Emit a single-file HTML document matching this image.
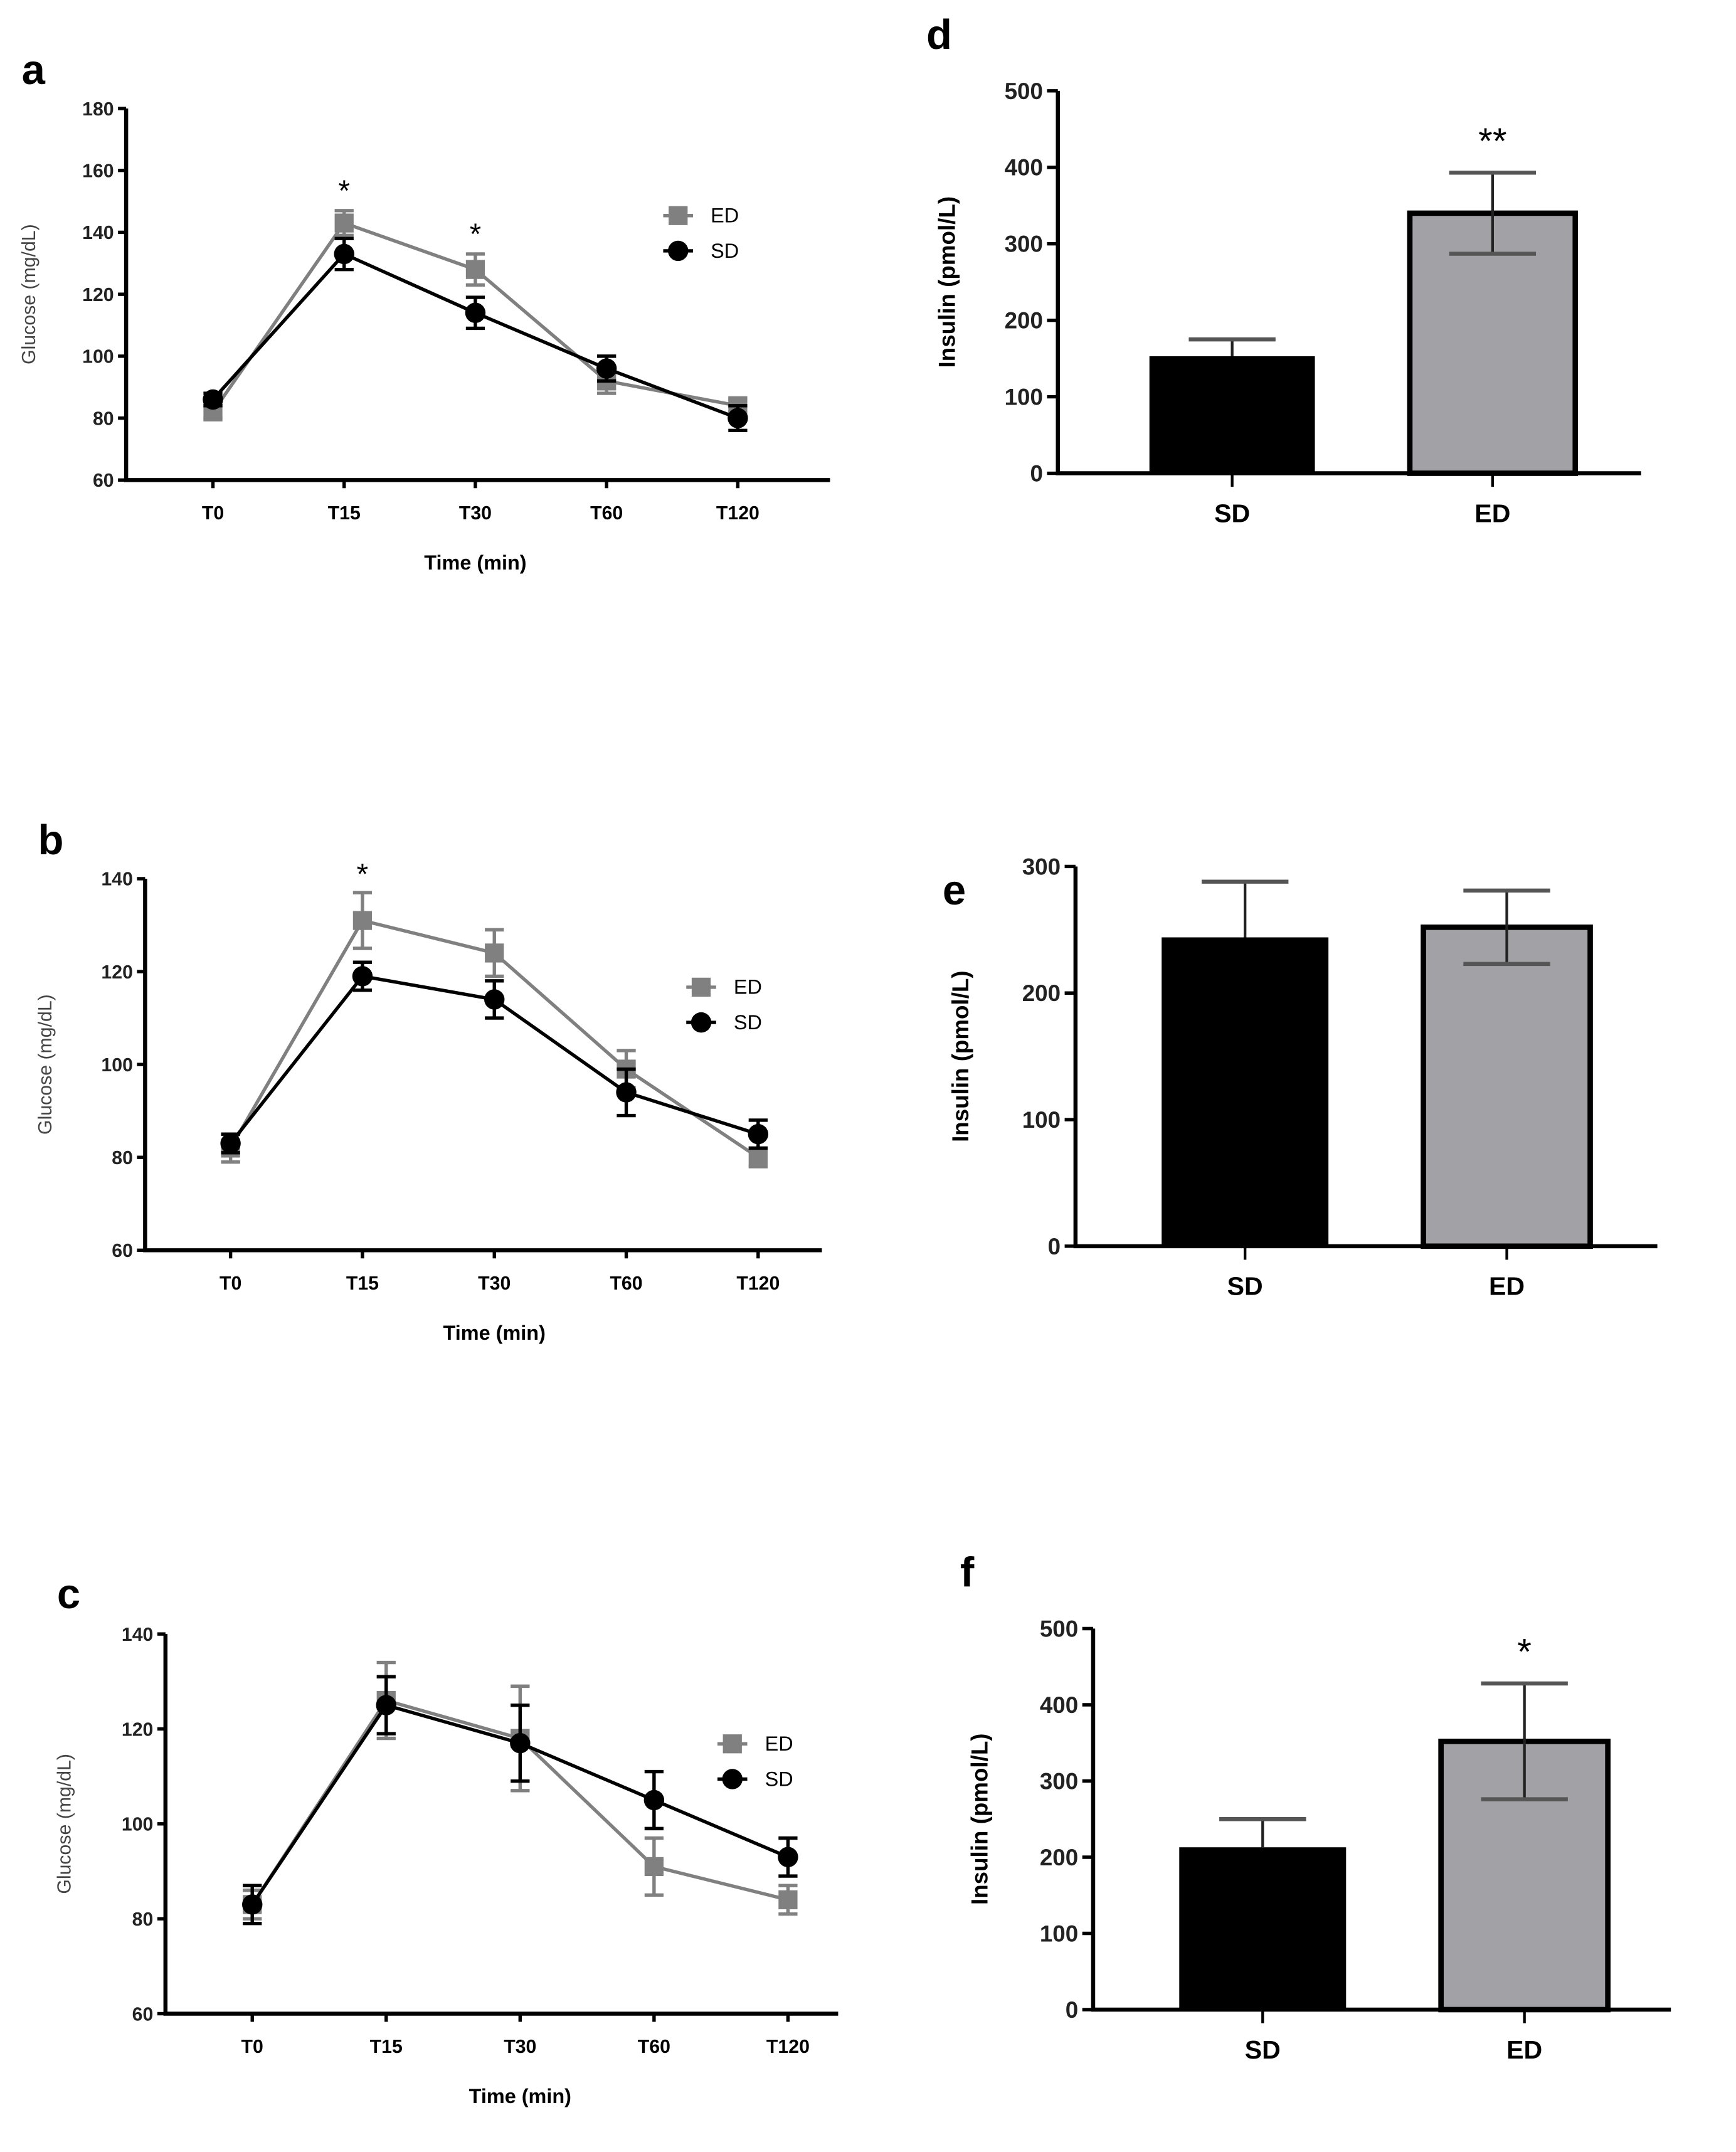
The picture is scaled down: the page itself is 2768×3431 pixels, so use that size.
<!DOCTYPE html>
<html><head><meta charset="utf-8"><style>
html,body{margin:0;padding:0;background:#fff;}
svg{display:block;font-family:"Liberation Sans",sans-serif;}
</style></head><body>
<svg id="fig" width="2768" height="3431" viewBox="0 0 1280 1587" preserveAspectRatio="none" xmlns="http://www.w3.org/2000/svg"></svg>
<script>
// ---- Line chart data ----
const timeLabels = ["T0","T15","T30","T60","T120"];
const aED = [82,143,128,92,84];
const aEDerr = [2,4,5,4,2];
const aSD = [86,133,114,96,80];
const aSDerr = [2,5,5,4,4];
const bED = [82,131,124,99,80];
const bEDerr = [3,6,5,4,2];
const bSD = [83,119,114,94,85];
const bSDerr = [2,3,4,5,3];
const cED = [83,126,118,91,84];
const cEDerr = [3,8,11,6,3];
const cSD = [83,125,117,105,93];
const cSDerr = [4,6,8,6,4];
const aTicks = [60,80,100,120,140,160,180];
const bTicks = [60,80,100,120,140];
const cTicks = [60,80,100,120,140];
// ---- Bar chart data ----
const barCats = ["SD","ED"];
const dVals = [153,340];
const dErr = [22,53];
const eVals = [244,252];
const eErr = [44,29];
const fVals = [213,352];
const fErr = [37,76];
const dTicks = [0,100,200,300,400,500];
const eTicks = [0,100,200,300];
const fTicks = [0,100,200,300,400,500];

const NS="http://www.w3.org/2000/svg";
const svg=document.getElementById('fig');
function mk(tag,attrs,parent,text){const e=document.createElementNS(NS,tag);for(const k in attrs)e.setAttribute(k,attrs[k]);if(text!==undefined)e.textContent=text;(parent||svg).appendChild(e);return e;}

function lineChart(o){
  const g=mk('g',{});
  
  
  const y=v=>o.y1+(v-o.vmax)/(o.vmin-o.vmax)*(o.y0-o.y1);
  const x=i=>o.xs0+i*o.step;
  const pl=mk('text',{x:o.lx,y:o.ly,'font-size':31,'font-weight':'bold'},g,o.id);
  
  
  const ax=mk('path',{d:`M${o.ax} ${o.y1}V${o.y0}H${o.xend}`,stroke:'#000','stroke-width':3,fill:'none'},g);
  
  
  o.ticks.forEach(t=>{
    mk('line',{x1:o.ax-6,x2:o.ax,y1:y(t),y2:y(t),stroke:'#000','stroke-width':2.5},g);
    const tl=mk('text',{x:o.ax-9,y:y(t)+5,'font-size':14,'text-anchor':'end','font-weight':'bold',fill:'#222'},g,t);
    
    
  });
  timeLabels.forEach((l,i)=>{
    mk('line',{x1:x(i),x2:x(i),y1:o.y0,y2:o.y0+6,stroke:'#000','stroke-width':2.5},g);
    const tl=mk('text',{x:x(i),y:o.y0+29,'font-size':14,'text-anchor':'middle','font-weight':'bold'},g,l);
    
    
  });
  const xt=mk('text',{x:x(2),y:o.y0+66,'font-size':15,'text-anchor':'middle','font-weight':'bold'},g,'Time (min)');
  
  
  const yc=(o.y0+o.y1)/2;
  const yt=mk('text',{x:o.ylx,y:yc,'font-size':14,'text-anchor':'middle',fill:'#444',transform:`rotate(-90 ${o.ylx} ${yc})`},g,'Glucose (mg/dL)');
  
  
  const series=[[o.ed,o.ede,'#808080','sq','ED'],[o.sd,o.sde,'#000','ci','SD']];
  series.forEach(([v,e,c,m,n])=>{
    const sg=mk('g',{},g);
    
    
    mk('polyline',{points:v.map((d,i)=>x(i)+','+y(d)).join(' '),fill:'none',stroke:c,'stroke-width':2.5},sg);
    v.forEach((d,i)=>{
      const cx=x(i),cy=y(d),t=y(d+e[i]),b=y(d-e[i]);
      mk('path',{d:`M${cx} ${t}V${b}M${cx-7} ${t}H${cx+7}M${cx-7} ${b}H${cx+7}`,stroke:c,'stroke-width':2.5,fill:'none'},sg);
      const mkr = m==='sq'?mk('rect',{x:cx-7,y:cy-7,width:14,height:14,fill:c},sg):mk('circle',{cx:cx,cy:cy,r:7.5,fill:c},sg);
      
      
    });
  });
  [[0,'#808080','sq','ED'],[1,'#000','ci','SD']].forEach(([k,c,m,n])=>{
    const lg=mk('g',{},g);
    
    
    const yy=o.legy+k*26;
    mk('line',{x1:o.legx-11,x2:o.legx+11,y1:yy,y2:yy,stroke:c,'stroke-width':2.5},lg);
    if(m==='sq')mk('rect',{x:o.legx-7,y:yy-7,width:14,height:14,fill:c},lg);else mk('circle',{cx:o.legx,cy:yy,r:7.5,fill:c},lg);
    mk('text',{x:o.legx+24,y:yy+5,'font-size':15},lg,n);
  });
  o.stars.forEach(s=>{
    const st=mk('text',{x:x(s[0]),y:s[1]+10,'font-size':22,'text-anchor':'middle'},g,'*');
    
    
  });
}

function barChart(o){
  const g=mk('g',{});
  
  
  const y=v=>o.y0-(v-0)/o.vmax*(o.y0-o.y1);
  const pl=mk('text',{x:o.lx,y:o.ly,'font-size':31,'font-weight':'bold'},g,o.id);
  
  
  const colors=['#000','#a2a2a6'];
  o.vals.forEach((v,i)=>{
    const bx=o.bx[i];
    const r=mk('rect',{x:bx+1.5,y:y(v),width:o.bw-3,height:o.y0-y(v),fill:colors[i],stroke:'#000','stroke-width':i?4:0},g);
    
    
    const cx=bx+o.bw/2, t=y(v+o.err[i]);
    const eb=mk('g',{},g);
    
    
    mk('line',{x1:cx,x2:cx,y1:y(v),y2:t,stroke:'#222','stroke-width':2},eb);
    mk('line',{x1:cx-32,x2:cx+32,y1:t,y2:t,stroke:'#555','stroke-width':3},eb);
    if(i===1){const b=y(v-o.err[i]);
      mk('line',{x1:cx,x2:cx,y1:y(v),y2:b,stroke:'#222','stroke-width':2},eb);
      mk('line',{x1:cx-32,x2:cx+32,y1:b,y2:b,stroke:'#555','stroke-width':3},eb);}
    mk('line',{x1:cx,x2:cx,y1:o.y0,y2:o.y0+10,stroke:'#000','stroke-width':2},g);
    const tl=mk('text',{x:cx,y:o.y0+36,'font-size':19,'text-anchor':'middle','font-weight':'bold'},g,barCats[i]);
    
    
  });
  const ax=mk('path',{d:`M${o.ax} ${o.y1}V${o.y0}H${o.xend}`,stroke:'#000','stroke-width':3,fill:'none'},g);
  
  
  o.ticks.forEach(t=>{
    mk('line',{x1:o.ax-8,x2:o.ax,y1:y(t),y2:y(t),stroke:'#000','stroke-width':2.5},g);
    const tl=mk('text',{x:o.ax-11,y:y(t)+6,'font-size':17,'text-anchor':'end','font-weight':'bold',fill:'#222'},g,t);
    
    
  });
  const yc=(o.y0+o.y1)/2;
  const yt=mk('text',{x:o.ylx,y:yc,'font-size':17,'text-anchor':'middle','font-weight':'bold',transform:`rotate(-90 ${o.ylx} ${yc})`},g,'Insulin (pmol/L)');
  
  
  if(o.star){const st=mk('text',{x:o.bx[1]+o.bw/2,y:y(o.vals[1]+o.err[1])-14,'font-size':27,'text-anchor':'middle'},g,o.star);
    
    }
}

lineChart({id:'a',lx:16,ly:62,ax:93,y0:354,y1:80,vmin:60,vmax:180,xend:612,xs0:157,step:96.75,ticks:aTicks,ylx:26,ed:aED,ede:aEDerr,sd:aSD,sde:aSDerr,legx:500,legy:159,stars:[[1,138],[2,170]]});
lineChart({id:'b',lx:28,ly:630,ax:107,y0:922,y1:648,vmin:60,vmax:140,xend:606,xs0:170,step:97.25,ticks:bTicks,ylx:38,ed:bED,ede:bEDerr,sd:bSD,sde:bSDerr,legx:517,legy:728,stars:[[1,642]]});
lineChart({id:'c',lx:42,ly:1186,ax:122,y0:1485,y1:1205,vmin:60,vmax:140,xend:618,xs0:186,step:98.75,ticks:cTicks,ylx:52,ed:cED,ede:cEDerr,sd:cSD,sde:cSDerr,legx:540,legy:1286,stars:[]});
barChart({id:'d',lx:683,ly:36,ax:780,y0:349,y1:67,vmax:500,xend:1210,bx:[846,1038],bw:125,vals:dVals,err:dErr,ticks:dTicks,ylx:704,star:'**'});
barChart({id:'e',lx:695,ly:667,ax:793,y0:919,y1:639,vmax:300,xend:1222,bx:[855,1048],bw:126,vals:eVals,err:eErr,ticks:eTicks,ylx:714,star:null});
barChart({id:'f',lx:708,ly:1170,ax:806,y0:1482,y1:1201,vmax:500,xend:1232,bx:[868,1061],bw:126,vals:fVals,err:fErr,ticks:fTicks,ylx:728,star:'*'});
</script>
</body></html>
